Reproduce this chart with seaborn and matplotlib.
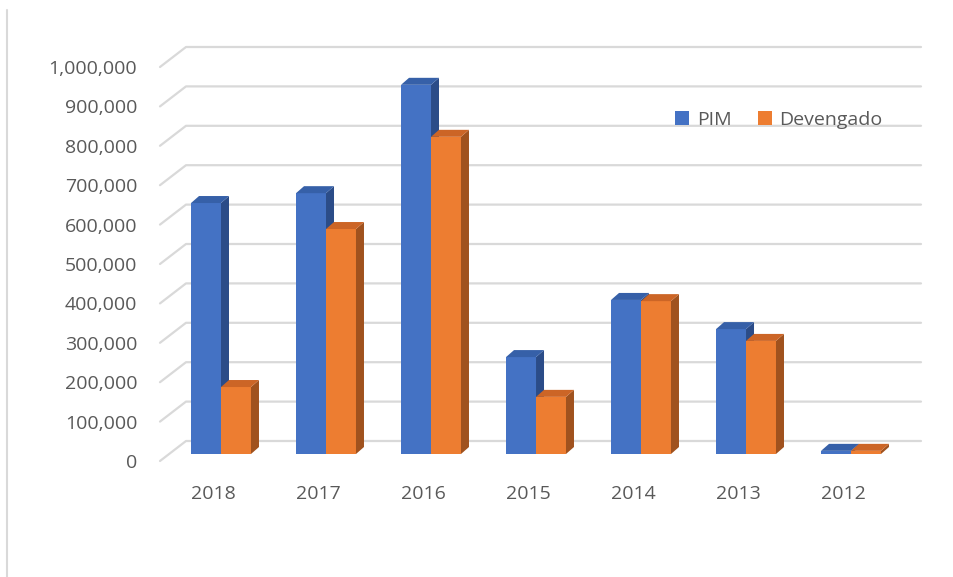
import pandas as pd
import matplotlib
matplotlib.use("Agg")
import matplotlib.pyplot as plt
import seaborn as sns
from matplotlib.patches import Polygon
from matplotlib.lines import Line2D
from matplotlib.transforms import IdentityTransform, Affine2D
from matplotlib.ticker import FuncFormatter

# data
years = ["2018", "2017", "2016", "2015", "2014", "2013", "2012"]
pim = [637000, 662000, 937000, 246000, 391000, 317000, 8000]
devengado = [170000, 571000, 805000, 145000, 388000, 287000, 8000]
series = ["PIM", "Devengado"]
y_ticks = list(range(0, 1000001, 100000))

front_colors = {"PIM": "#4472C4", "Devengado": "#ED7D31"}
top_colors = {"PIM": "#3660A8", "Devengado": "#CC6526"}
side_colors = {"PIM": "#2B4C88", "Devengado": "#A0521E"}
text_color = "#595959"
grid_color = "#D9D9D9"


def build_frame():
    df = pd.DataFrame({
        "Año": years * 2,
        "Serie": ["PIM"] * len(years) + ["Devengado"] * len(years),
        "Valor": pim + devengado,
    })
    return df


def add_depth(ax, container, name, z, dx=8, dy=7):
    # fake the 3D look: side and top face from each bar's own geometry
    for bar in container:
        x0 = bar.get_x()
        x1 = x0 + bar.get_width()
        h = bar.get_height()
        px0, py0 = ax.transData.transform((x0, 0))
        px1, py1 = ax.transData.transform((x1, h))
        side = [(px1, py0), (px1, py1), (px1 + dx, py1 + dy), (px1 + dx, py0 + dy)]
        top = [(px0, py1), (px1, py1), (px1 + dx, py1 + dy), (px0 + dx, py1 + dy)]
        ax.add_patch(Polygon(side, closed=True, transform=IdentityTransform(),
                             facecolor=side_colors[name], edgecolor="none",
                             zorder=z + 0.1, clip_on=False))
        ax.add_patch(Polygon(top, closed=True, transform=IdentityTransform(),
                             facecolor=top_colors[name], edgecolor="none",
                             zorder=z + 0.1, clip_on=False))


def add_back_grid(ax, left_px, back_px, right_px):
    for v in y_ticks:
        yd = ax.transData.transform((0, v))[1]
        xs = [left_px, back_px, right_px]
        ys = [yd - 7, yd + 13, yd + 13]
        ax.add_line(Line2D(xs, ys, transform=IdentityTransform(), color=grid_color,
                           lw=1.6, zorder=0.5, clip_on=False))


def main():
    W, H = 954, 577
    sns.set_theme(style="white")
    plt.rcParams["font.family"] = ["Open Sans", "DejaVu Sans"]

    df = build_frame()

    fig = plt.figure(figsize=(W / 100, H / 100), dpi=100)
    ax = fig.add_axes([160 / W, 123 / H, 760 / W, 414 / H])

    sns.barplot(data=df, x="Año", y="Valor", hue="Serie", order=years,
                hue_order=series, palette=front_colors, width=0.571,
                saturation=1, linewidth=0, ax=ax)

    ax.set_xlim(-0.581, 6.657)
    ax.set_ylim(0, 414 / 394 * 1e6)

    for cont, name, z in zip(ax.containers, series, [2, 3]):
        for bar in cont:
            bar.set_zorder(z)
        add_depth(ax, cont, name, z)

    add_back_grid(ax, 160, 186, 921)

    for s in ax.spines.values():
        s.set_visible(False)
    ax.grid(False)
    ax.set_xlabel("")
    ax.set_ylabel("")

    ax.set_yticks(y_ticks)
    ax.yaxis.set_major_formatter(FuncFormatter(lambda v, p: f"{v:,.0f}"))
    ax.tick_params(axis="y", length=0, pad=16.5, labelsize=14, labelcolor=text_color)
    ax.tick_params(axis="x", length=0, pad=22, labelsize=14, labelcolor=text_color)

    for lbl in ax.get_yticklabels():
        lbl.set_transform(lbl.get_transform() + Affine2D().translate(0, -7))
    for lbl in ax.get_xticklabels():
        lbl.set_transform(lbl.get_transform() + Affine2D().translate(-7.5, 0))

    handles, labels = ax.get_legend_handles_labels()
    ax.legend(handles, labels, loc="upper left",
              bbox_to_anchor=(675 / W, 1 - 111 / H), bbox_transform=fig.transFigure,
              ncol=2, frameon=False, fontsize=14, handlelength=0.72,
              handleheight=0.72, handletextpad=0.4, columnspacing=1.35,
              borderaxespad=0, borderpad=0, labelcolor=text_color)

    # left border of the chart area
    fig.add_artist(Line2D([7 / W, 7 / W], [0, 1 - 10 / H], transform=fig.transFigure,
                          color=grid_color, lw=1.5))

    fig.savefig("out.png", dpi=100)
    plt.close(fig)


if __name__ == "__main__":
    main()
